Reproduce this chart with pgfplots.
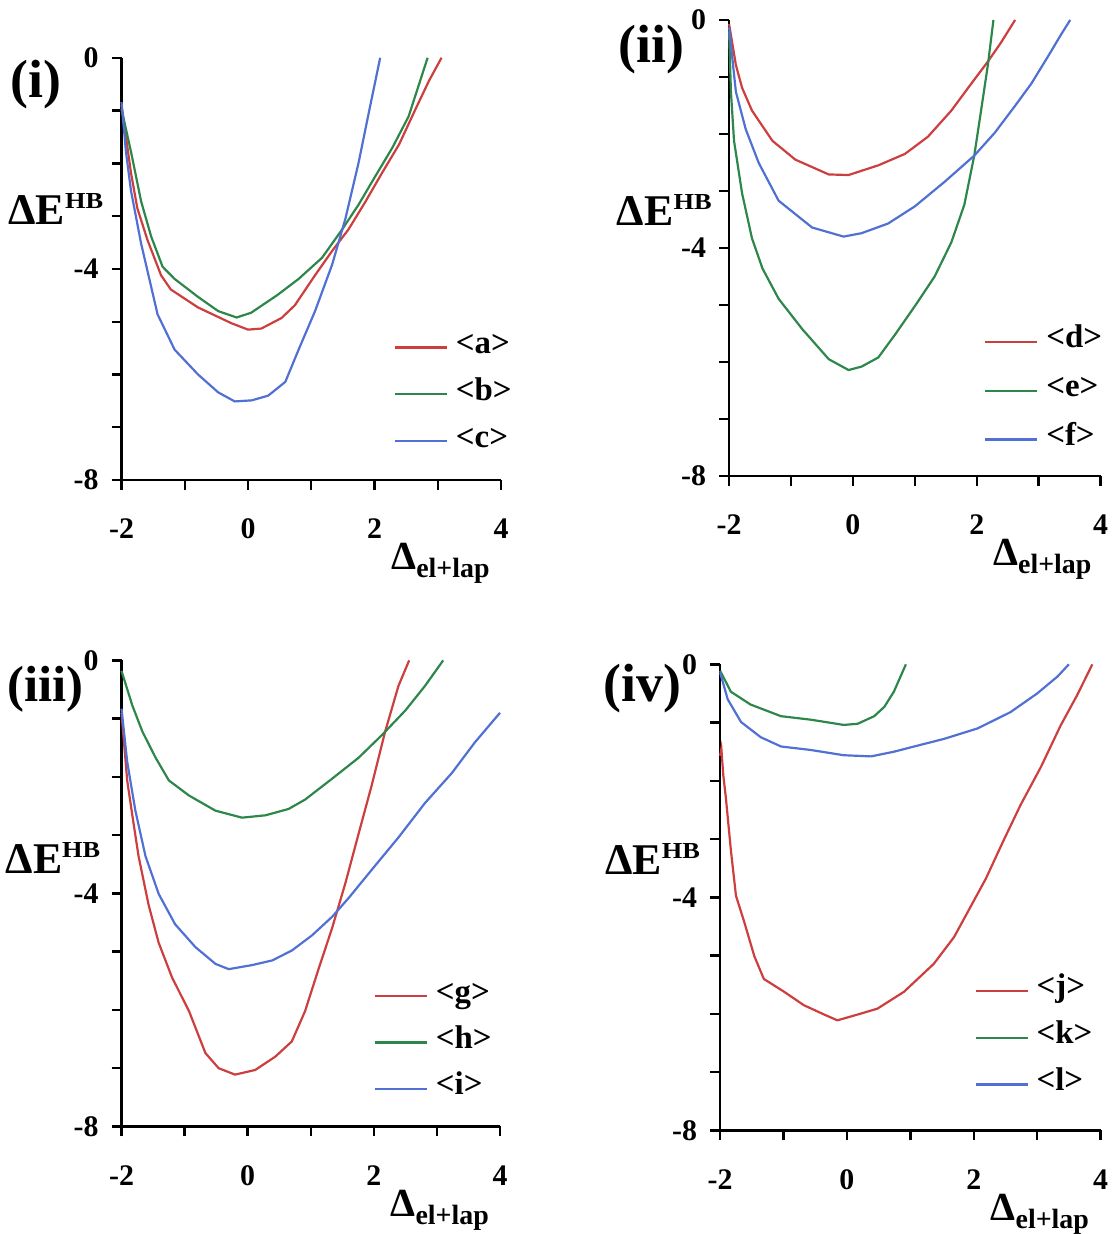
\documentclass[border=0pt]{standalone}
\usepackage{fontspec}
\setmainfont{Liberation Serif}
\usepackage{graphicx}
\usepackage{pgfplots}
\pgfplotsset{compat=1.18}
\definecolor{cred}{RGB}{205,62,62}
\definecolor{cgreen}{RGB}{45,135,75}
\definecolor{cblue}{RGB}{80,112,212}
\newcommand\xlab{{\fontsize{20}{20}\selectfont\bfseries Δ}\raisebox{-4pt}{\fontsize{14}{14}\selectfont\bfseries el+lap}}
\newcommand\ylab{{\fontsize{22}{22}\selectfont\bfseries ΔE}\raisebox{8pt}{\scalebox{1.15}[1]{\fontsize{11.5}{12}\selectfont\bfseries HB}}}
\pgfplotsset{
 panel/.style={
  scale only axis, anchor=south west,
  xmin=-2, xmax=4, ymin=-8, ymax=0,
  axis lines*=left, axis line style={line width=1.2pt, black},
  xtick={-2,0,2,4}, minor xtick={-1,1,3},
  ytick={-8,-4,0}, minor ytick={-7,-6,-5,-3,-2,-1},
  tick align=outside, major tick length=5pt, minor tick length=5pt,
  every tick/.style={black, line width=1.2pt},
  every minor tick/.style={black, line width=1.2pt},
  tick label style={font=\fontsize{15}{15}\selectfont\bfseries},
  /pgf/number format/assume math mode=true,
  xticklabel style={yshift=-11pt},
  yticklabel style={xshift=-3pt},
  clip=false,
  legend cell align=left,
  legend style={draw=none, fill=none, inner sep=0pt, anchor=west,
    font=\fontsize{16.5}{16.5}\selectfont\bfseries, row sep=13.5pt, column sep=4pt,
    nodes={inner sep=0pt, text height=8pt, text depth=2pt}},
  legend image code/.code={\draw[##1] (0pt,0pt) -- (26pt,0pt);},
  every axis plot/.append style={line width=1.1pt},
  every axis x label/.style={at={(axis description cs:0.71,0)}, anchor=base west, yshift=-45pt, inner sep=0pt},
  xlabel={\xlab},
  ylabel={\ylab},
 },
}
\begin{document}
\begin{tikzpicture}
\path (0,0) rectangle (558pt,617pt);
% panel (i)
\begin{axis}[panel, at={(61pt,376pt)}, width=190.5pt, height=212pt,
  every axis y label/.style={at={(axis description cs:-0.047,0.606)}, anchor=base east, inner sep=0pt},
  legend style={at={(axis description cs:0.717,0.203)}}]
\addplot[cred] coordinates {(-2,-0.9) (-1.85,-2.18) (-1.75,-2.85) (-1.59,-3.45) (-1.375,-4.12) (-1.22,-4.39) (-0.79,-4.73) (-0.26,-5.03) (0,-5.15) (0.21,-5.13) (0.53,-4.93) (0.74,-4.69) (1.06,-4.12) (1.33,-3.66) (1.59,-3.25) (1.86,-2.72) (2.12,-2.18) (2.39,-1.64) (2.65,-0.97) (2.86,-0.44) (3.06,0)};
\addlegendentry{\textless a\textgreater}
\addplot[cgreen] coordinates {(-2,-0.97) (-1.85,-1.78) (-1.69,-2.72) (-1.53,-3.39) (-1.35,-3.96) (-1.16,-4.19) (-0.79,-4.53) (-0.47,-4.80) (-0.18,-4.92) (0.05,-4.83) (0.47,-4.49) (0.80,-4.19) (1.17,-3.79) (1.49,-3.25) (1.75,-2.78) (2.01,-2.25) (2.28,-1.71) (2.54,-1.11) (2.84,0)};
\addlegendentry{\textless b\textgreater}
\addplot[cblue] coordinates {(-2,-0.84) (-1.93,-1.78) (-1.85,-2.52) (-1.69,-3.52) (-1.43,-4.86) (-1.16,-5.53) (-0.79,-6.0) (-0.47,-6.34) (-0.21,-6.51) (0.06,-6.49) (0.32,-6.40) (0.59,-6.14) (0.80,-5.53) (1.06,-4.80) (1.33,-3.92) (1.54,-3.05) (1.75,-1.98) (1.91,-1.04) (2.09,0)};
\addlegendentry{\textless c\textgreater}
\end{axis}
% panel (ii)
\begin{axis}[panel, at={(366pt,378pt)}, width=186.5pt, height=229pt,
  every axis y label/.style={at={(axis description cs:-0.046,0.55)}, anchor=base east, inner sep=0pt},
  legend style={at={(axis description cs:0.686,0.187)}, row sep=14.5pt}]
\addplot[cred] coordinates {(-2,-0.07) (-1.89,-0.79) (-1.79,-1.19) (-1.63,-1.59) (-1.30,-2.12) (-0.93,-2.45) (-0.39,-2.71) (-0.07,-2.72) (0.41,-2.55) (0.84,-2.35) (1.21,-2.05) (1.59,-1.59) (1.91,-1.12) (2.18,-0.73) (2.39,-0.40) (2.62,0)};
\addlegendentry{\textless d\textgreater}
\addplot[cgreen] coordinates {(-2,-0.2) (-1.97,-1.26) (-1.92,-2.12) (-1.79,-3.04) (-1.63,-3.83) (-1.46,-4.36) (-1.20,-4.89) (-0.82,-5.42) (-0.39,-5.95) (-0.07,-6.14) (0.14,-6.08) (0.41,-5.92) (0.68,-5.52) (1.0,-5.02) (1.32,-4.50) (1.59,-3.90) (1.80,-3.24) (1.96,-2.38) (2.07,-1.59) (2.18,-0.79) (2.27,0)};
\addlegendentry{\textless e\textgreater}
\addplot[cblue] coordinates {(-2,-0.13) (-1.89,-1.26) (-1.73,-1.92) (-1.52,-2.51) (-1.20,-3.17) (-0.66,-3.64) (-0.15,-3.80) (0.14,-3.74) (0.57,-3.57) (1.0,-3.27) (1.48,-2.84) (1.96,-2.38) (2.29,-1.98) (2.61,-1.52) (2.88,-1.12) (3.14,-0.66) (3.36,-0.26) (3.51,0)};
\addlegendentry{\textless f\textgreater}
\end{axis}
% panel (iii)
\begin{axis}[panel, at={(61pt,51.5pt)}, width=190pt, height=234pt,
  every axis y label/.style={at={(axis description cs:-0.055,0.543)}, anchor=base east, inner sep=0pt},
  legend style={at={(axis description cs:0.666,0.18)}, row sep=13.25pt}]
\addplot[cred] coordinates {(-2,-0.9) (-1.91,-2.06) (-1.83,-2.65) (-1.73,-3.36) (-1.57,-4.20) (-1.41,-4.85) (-1.20,-5.44) (-0.93,-6.02) (-0.67,-6.74) (-0.46,-7.0) (-0.20,-7.11) (0.12,-7.03) (0.44,-6.80) (0.70,-6.54) (0.91,-6.02) (1.12,-5.31) (1.34,-4.59) (1.55,-3.82) (1.76,-2.97) (1.97,-2.13) (2.18,-1.22) (2.39,-0.44) (2.56,0)};
\addlegendentry{\textless g\textgreater}
\addplot[cgreen] coordinates {(-2,-0.18) (-1.83,-0.77) (-1.67,-1.22) (-1.46,-1.67) (-1.25,-2.06) (-0.93,-2.32) (-0.51,-2.58) (-0.09,-2.70) (0.28,-2.66) (0.65,-2.55) (0.91,-2.39) (1.34,-2.03) (1.76,-1.67) (2.13,-1.28) (2.50,-0.86) (2.81,-0.44) (3.10,0)};
\addlegendentry{\textless h\textgreater}
\addplot[cblue] coordinates {(-2,-0.83) (-1.91,-1.74) (-1.78,-2.58) (-1.62,-3.36) (-1.41,-4.01) (-1.15,-4.53) (-0.83,-4.92) (-0.51,-5.21) (-0.30,-5.30) (0.07,-5.23) (0.39,-5.15) (0.70,-4.98) (1.02,-4.72) (1.34,-4.40) (1.60,-4.08) (1.97,-3.59) (2.39,-3.04) (2.81,-2.45) (3.24,-1.93) (3.60,-1.41) (4.0,-0.90)};
\addlegendentry{\textless i\textgreater}
\end{axis}
% panel (iv)
\begin{axis}[panel, at={(361.5pt,49.5pt)}, width=191pt, height=234pt,
  every axis y label/.style={at={(axis description cs:-0.052,0.549)}, anchor=base east, inner sep=0pt},
  legend style={at={(axis description cs:0.668,0.199)}, row sep=13.5pt}]
\addplot[cred] coordinates {(-2,-1.57) (-1.98,-1.45) (-1.95,-1.9) (-1.91,-2.28) (-1.83,-3.19) (-1.75,-3.97) (-1.62,-4.42) (-1.46,-5.01) (-1.31,-5.40) (-0.99,-5.62) (-0.68,-5.85) (-0.36,-6.01) (-0.15,-6.11) (0.17,-6.01) (0.48,-5.91) (0.90,-5.62) (1.37,-5.14) (1.69,-4.68) (1.95,-4.16) (2.19,-3.68) (2.48,-3.0) (2.74,-2.41) (3.06,-1.76) (3.37,-1.05) (3.63,-0.53) (3.87,0)};
\addlegendentry{\textless j\textgreater}
\addplot[cgreen] coordinates {(-2,-0.11) (-1.83,-0.47) (-1.52,-0.69) (-1.04,-0.89) (-0.57,-0.95) (-0.05,-1.04) (0.17,-1.02) (0.43,-0.89) (0.59,-0.73) (0.74,-0.47) (0.93,0)};
\addlegendentry{\textless k\textgreater}
\addplot[cblue] coordinates {(-2,-0.14) (-1.88,-0.60) (-1.67,-0.99) (-1.36,-1.25) (-1.04,-1.41) (-0.57,-1.47) (-0.05,-1.56) (0.38,-1.58) (0.74,-1.50) (1.06,-1.41) (1.53,-1.28) (2.06,-1.10) (2.58,-0.82) (3.0,-0.50) (3.32,-0.21) (3.50,0)};
\addlegendentry{\textless l\textgreater}
\end{axis}
\node[anchor=west, inner sep=0pt, font=\fontsize{27}{27}\selectfont\bfseries] at (5pt,574.75pt) {(i)};
\node[anchor=west, inner sep=0pt, font=\fontsize{27}{27}\selectfont\bfseries] at (310.5pt,592pt) {(ii)};
\node[anchor=west, inner sep=0pt, font=\fontsize{25.5}{25.5}\selectfont\bfseries] at (3.5pt,271pt) {(iii)};
\node[anchor=west, inner sep=0pt, font=\fontsize{27}{27}\selectfont\bfseries] at (303pt,271.5pt) {(iv)};
\end{tikzpicture}
\end{document}
